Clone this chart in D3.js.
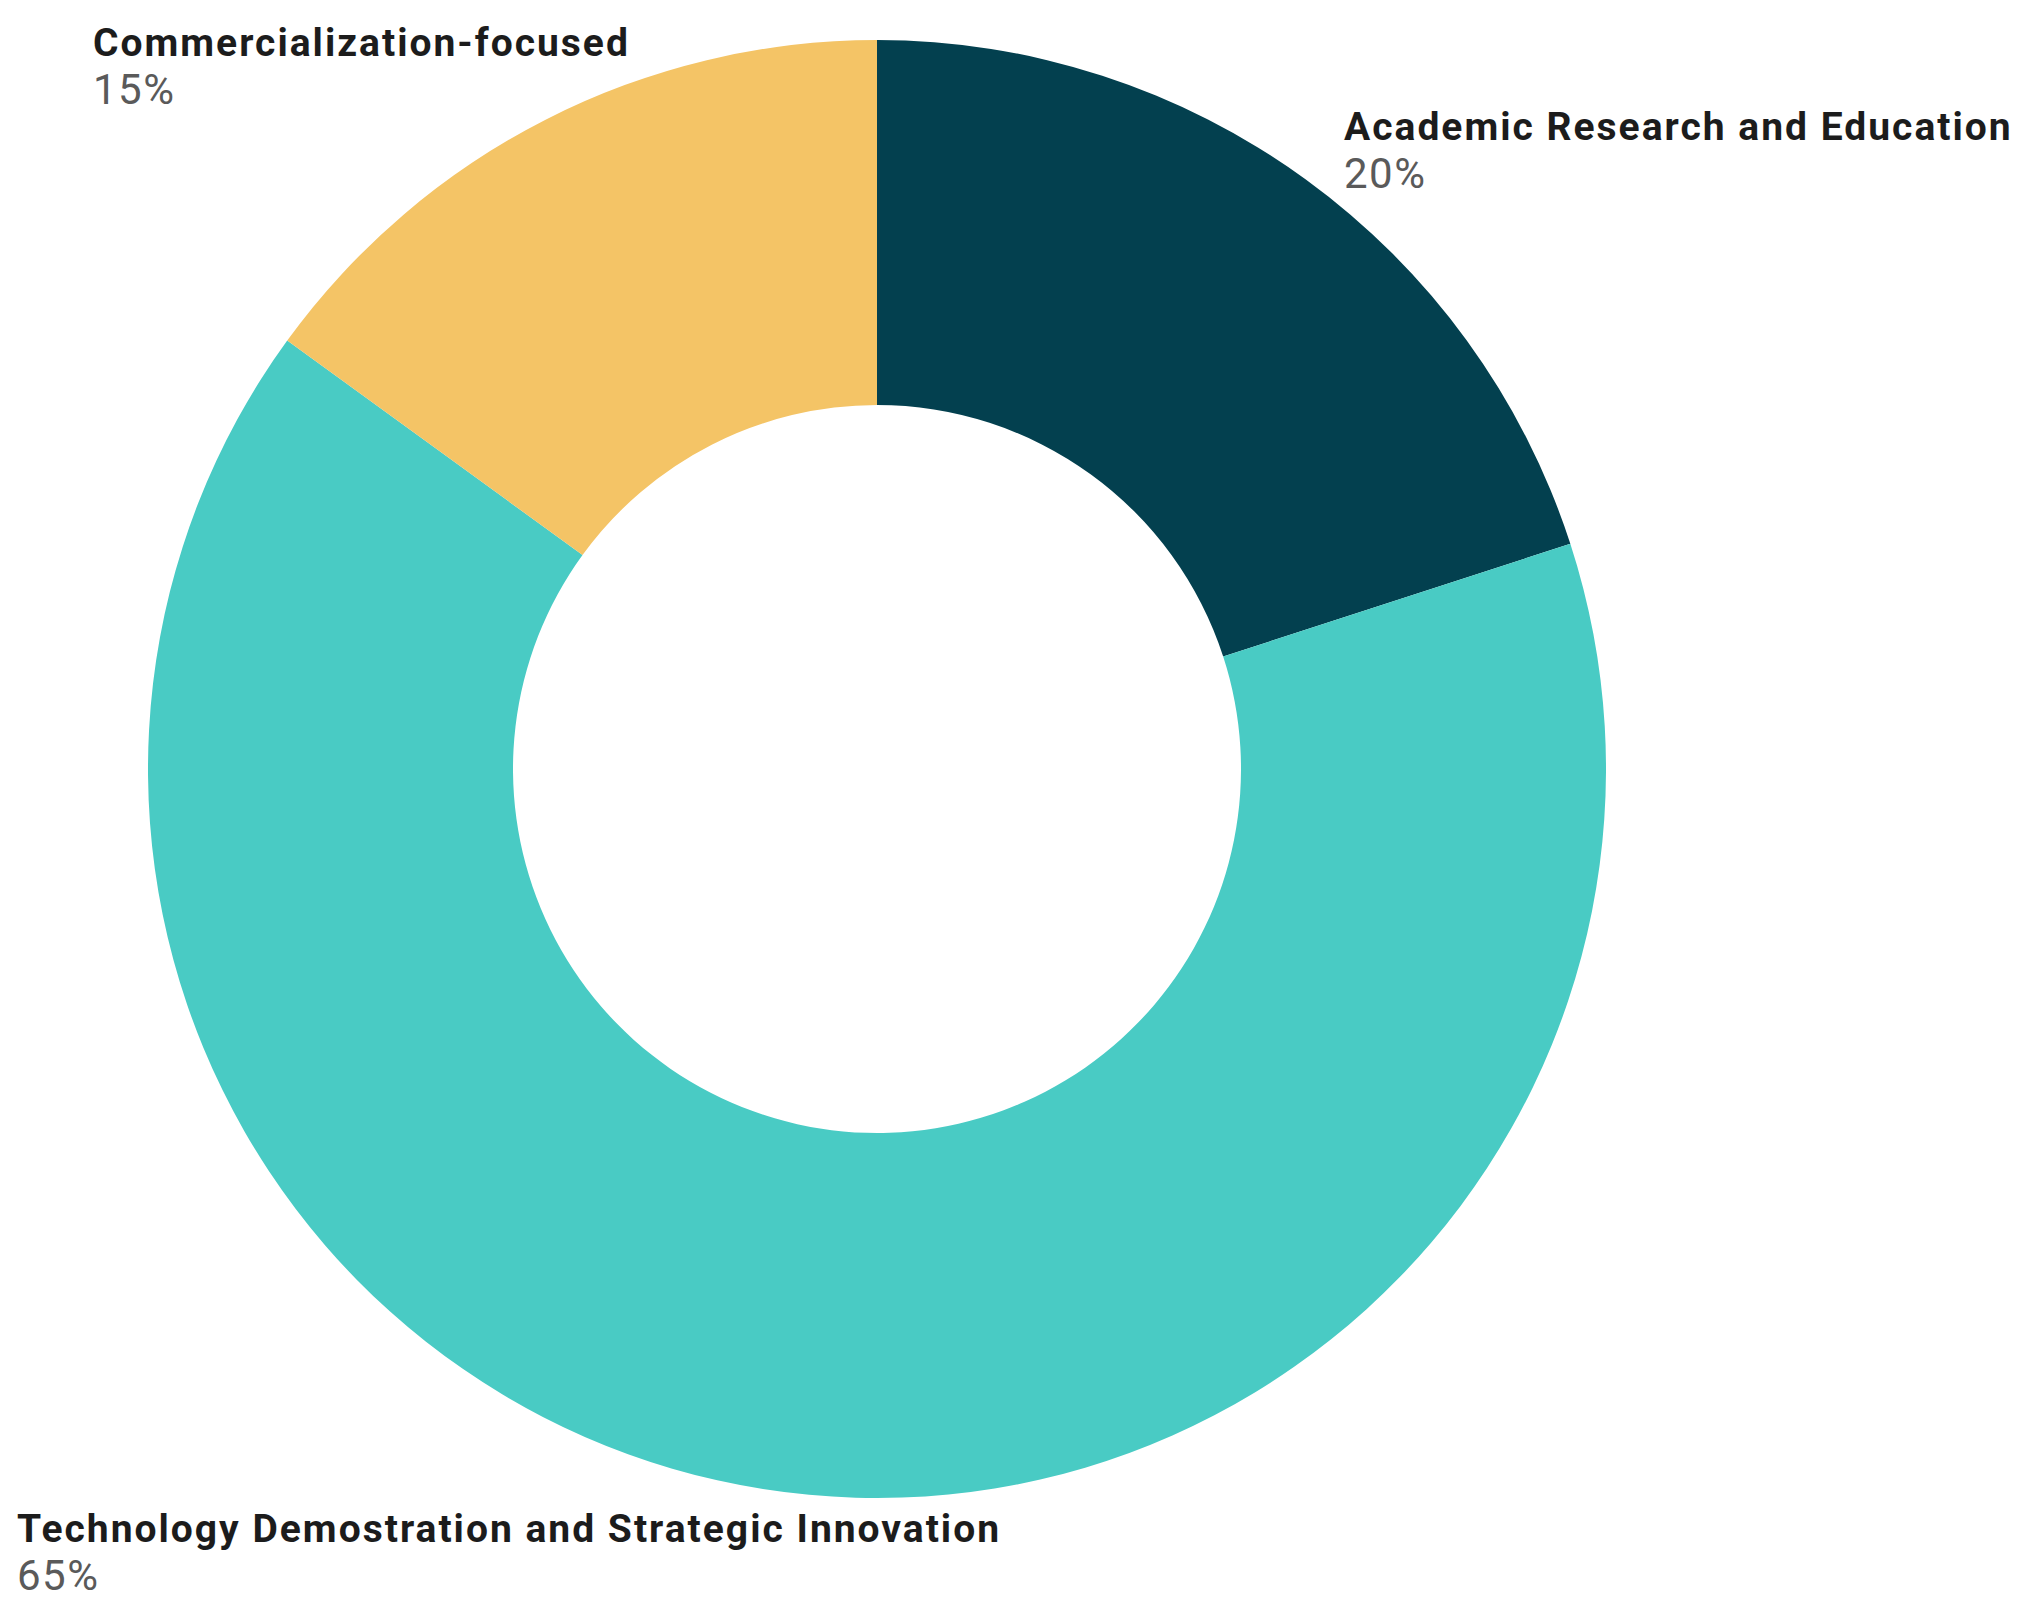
<!DOCTYPE html>
<html>
<head>
<meta charset="utf-8">
<script src="https://cdn.jsdelivr.net/npm/d3@7"></script>
<style>
  html, body { margin: 0; padding: 0; background: #ffffff; }
  svg { display: block; }
</style>
</head>
<body>
<svg id="chart" width="2023" height="1617"></svg>
<script>
const categories = ["Academic Research and Education", "Technology Demostration and Strategic Innovation", "Commercialization-focused"];
const values = [20, 65, 15];
const valueLabels = ["20%", "65%", "15%"];
const colors = ["#03404F", "#49CBC4", "#F4C466"];

const W = 2023, H = 1617;
const cx = 877, cy = 769;
const outerR = 729, innerR = 364;

const svg = d3.select("#chart");
const g = svg.append("g").attr("transform", `translate(${cx},${cy})`);

const data = categories.map((c, i) => ({ name: c, value: values[i], label: valueLabels[i], color: colors[i] }));

const pie = d3.pie().sort(null).value(d => d.value);
const arc = d3.arc().innerRadius(innerR).outerRadius(outerR);

g.selectAll("path.slice")
  .data(pie(data))
  .join("path")
  .attr("class", "slice")
  .attr("d", arc)
  .attr("fill", d => d.data.color);

// label placement (absolute page coords of text anchors)
const labelPos = [
  { x: 1344, y: 140 },
  { x: 17, y: 1542 },
  { x: 93, y: 56 }
];

const fontFam = "Roboto, 'Noto Sans', sans-serif";
const lab = svg.append("g");
data.forEach((d, i) => {
  const p = labelPos[i];
  lab.append("text")
    .attr("x", p.x).attr("y", p.y)
    .attr("font-family", fontFam)
    .attr("font-weight", 700)
    .attr("font-size", 39)
    .attr("letter-spacing", 2)
    .attr("fill", "#1c1c1c")
    .text(d.name);
  lab.append("text")
    .attr("x", p.x).attr("y", p.y + 48)
    .attr("font-family", fontFam)
    .attr("font-weight", 400)
    .attr("font-size", 42)
    .attr("letter-spacing", 1.5)
    .attr("fill", "#5a5a5a")
    .text(d.label);
});
</script>
</body>
</html>
